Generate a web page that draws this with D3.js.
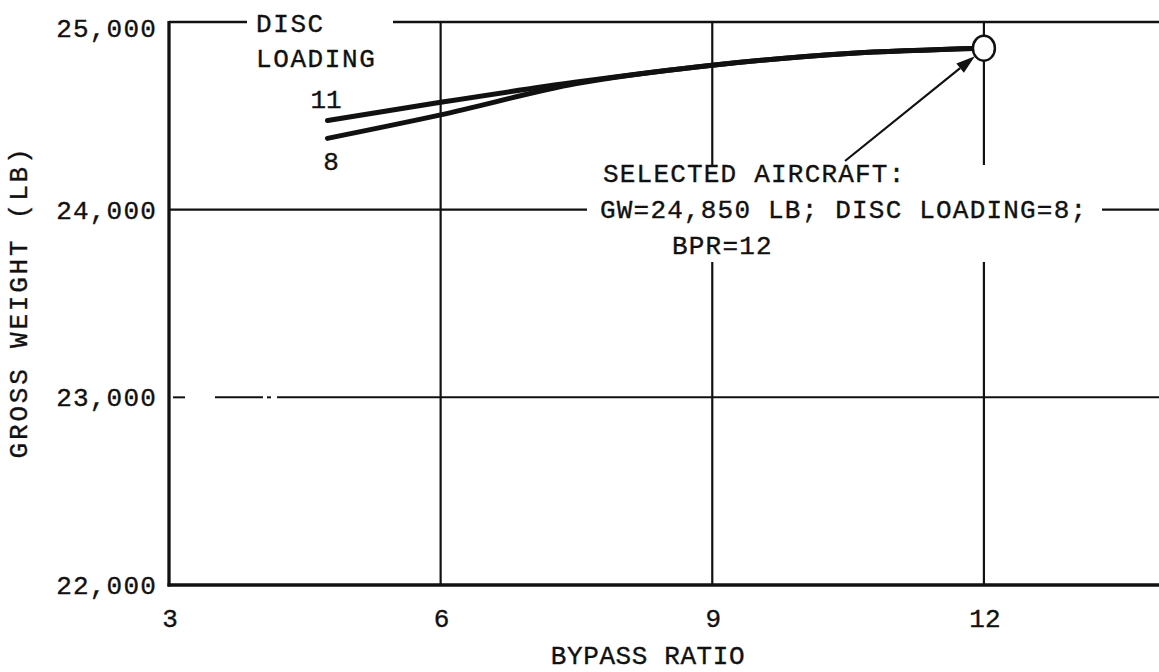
<!DOCTYPE html>
<html>
<head>
<meta charset="utf-8">
<script src="https://cdn.jsdelivr.net/npm/d3@7"></script>
<style>
  html, body { margin: 0; padding: 0; background: #fff; }
  svg { display: block; }
  text { font-family: "Liberation Mono", "Courier New", monospace; fill: #111; stroke: #111; stroke-width: 0.35; }
</style>
</head>
<body>
<svg id="chart" width="1159" height="672"></svg>
<script>
// ---- data ----
const xTicks = [3, 6, 9, 12];
const yTicks = [22000, 23000, 24000, 25000];

const bpr11 = [4.75, 6, 7.5, 9, 10.5, 12];
const gw11  = [24475, 24572, 24680, 24770, 24832, 24860];

const bpr8  = [4.75, 6, 7.5, 9, 10.5, 12];
const gw8   = [24380, 24505, 24672, 24770, 24832, 24860];

const selectedBPR = 12;
const selectedGW = 24850;

const seriesLabels = ["11", "8"];
const legendTitle = ["DISC", "LOADING"];
const noteLines = ["SELECTED AIRCRAFT:", "GW=24,850 LB; DISC LOADING=8;", "BPR=12"];
const xTitle = "BYPASS RATIO";
const yTitle = "GROSS WEIGHT (LB)";

// ---- scales ----
const svg = d3.select("#chart");
const x = d3.scaleLinear().domain([3, 14]).range([169, 1165]);
const y = d3.scaleLinear().domain([22000, 25000]).range([585, 22]);
const ink = "#111";

const g = svg.append("g");

function seg(x1, y1, x2, y2, w) {
  return g.append("line")
    .attr("x1", x1).attr("y1", y1).attr("x2", x2).attr("y2", y2)
    .attr("stroke", ink).attr("stroke-width", w);
}

// ---- grid ----
seg(x(6), y(25000), x(6), y(22000), 2.2);
[9, 12].forEach(v => {
  seg(x(v), y(25000), x(v), 165, 2.2);
  seg(x(v), 262, x(v), y(22000), 2.2);
});
seg(x(3), y(25000), 247, y(25000), 2.4);
seg(393, y(25000), 1159, y(25000), 2.4);
seg(x(3), y(24000), 587, y(24000), 2.2);
seg(1102, y(24000), 1159, y(24000), 2.2);
// 23000: broken start
[[173, 185], [215, 263], [267, 271], [277, 1159]].forEach(([a, b]) =>
  seg(a, y(23000), b, y(23000), 2));

// axes
seg(x(3), y(25000) - 1, x(3), y(22000) + 1.5, 3.3);
seg(x(3) - 1.5, y(22000), 1159, y(22000), 3.3);

// ---- tick labels ----
g.selectAll(".ytick").data(yTicks).join("text")
  .attr("class", "ytick")
  .attr("x", 157)
  .attr("y", d => y(d) + (d === 25000 ? 15 : 9))
  .attr("text-anchor", "end")
  .attr("font-size", 26)
  .attr("letter-spacing", 1.2)
  .text(d => d3.format(",")(d));

g.selectAll(".xtick").data(xTicks).join("text")
  .attr("class", "xtick")
  .attr("x", d => x(d) + 1)
  .attr("y", 627)
  .attr("text-anchor", "middle")
  .attr("font-size", 26)
  .text(d => d);

// axis titles
g.append("text")
  .attr("x", 648).attr("y", 664)
  .attr("text-anchor", "middle")
  .attr("font-size", 26)
  .attr("letter-spacing", 0.6)
  .text(xTitle);

g.append("text")
  .attr("transform", "translate(27,302) rotate(-90)")
  .attr("text-anchor", "middle")
  .attr("font-size", 26)
  .attr("letter-spacing", 2.8)
  .text(yTitle);

// ---- curves ----
const line = d3.line()
  .x(d => x(d[0]))
  .y(d => y(d[1]))
  .curve(d3.curveMonotoneX);

const s11 = bpr11.map((b, i) => [b, gw11[i]]);
const s8 = bpr8.map((b, i) => [b, gw8[i]]);

[s11, s8].forEach(s => {
  g.append("path")
    .attr("d", line(s))
    .attr("fill", "none")
    .attr("stroke", ink)
    .attr("stroke-width", 5)
    .attr("stroke-linecap", "round");
});

// series labels
g.append("text").attr("x", 326).attr("y", 108).attr("text-anchor", "middle")
  .attr("font-size", 26).text(seriesLabels[0]);
g.append("text").attr("x", 331).attr("y", 170).attr("text-anchor", "middle")
  .attr("font-size", 26).text(seriesLabels[1]);

// legend title
legendTitle.forEach((t, i) => {
  g.append("text").attr("x", 256).attr("y", 32 + i * 35)
    .attr("font-size", 26).attr("letter-spacing", 1.6).text(t);
});

// ---- selected aircraft marker ----
const cx = x(selectedBPR), cy = y(selectedGW) - 2;
g.append("ellipse")
  .attr("cx", cx).attr("cy", cy)
  .attr("rx", 11).attr("ry", 12.5)
  .attr("fill", "#fff")
  .attr("stroke", ink)
  .attr("stroke-width", 2.5);

// arrow
const ax0 = 845, ay0 = 161;
const ax1 = cx - 9, ay1 = cy + 8;
const ang = Math.atan2(ay1 - ay0, ax1 - ax0);
const headLen = 19, headW = 6;
const bx = ax1 - headLen * Math.cos(ang), by = ay1 - headLen * Math.sin(ang);
seg(ax0, ay0, bx, by, 2.2);
g.append("path")
  .attr("d", d3.line()([
    [ax1, ay1],
    [bx + headW * Math.sin(ang), by - headW * Math.cos(ang)],
    [bx - headW * Math.sin(ang), by + headW * Math.cos(ang)]
  ]) + "Z")
  .attr("fill", ink);

// note
const noteX = [603, 600, 672];
const noteY = [182, 218, 254];
noteLines.forEach((t, i) => {
  g.append("text").attr("x", noteX[i]).attr("y", noteY[i])
    .attr("font-size", 26).attr("letter-spacing", 1.2).text(t);
});
</script>
</body>
</html>
